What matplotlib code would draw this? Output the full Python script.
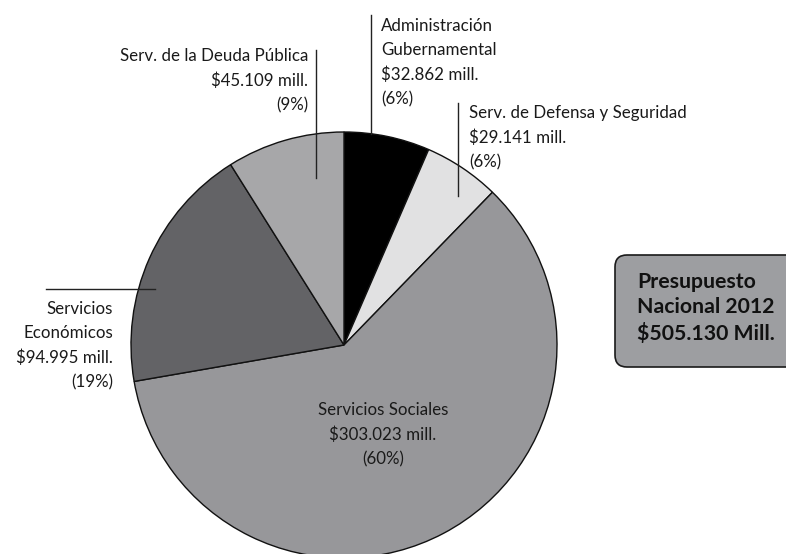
import matplotlib
matplotlib.use('Agg')
from matplotlib import pyplot as plt
from matplotlib.patches import FancyBboxPatch

W, H = 786, 554

# Presupuesto por finalidad, millones de pesos
labels = ['Administración\nGubernamental', 'Serv. de Defensa y Seguridad',
          'Servicios Sociales', 'Servicios\nEconómicos', 'Serv. de la Deuda Pública']
values = [32.862, 29.141, 303.023, 94.995, 45.109]
value_text = ['$32.862 mill.', '$29.141 mill.', '$303.023 mill.', '$94.995 mill.', '$45.109 mill.']
pct_text = ['(6%)', '(6%)', '(60%)', '(19%)', '(9%)']
colors = ['#000000', '#e1e1e2', '#97979a', '#636366', '#a7a7a9']
total_text = 'Presupuesto\nNacional 2012\n$505.130 Mill.'

FONT = 'Lato'


def py(y):
    '''
        pixel row (from the top) -> data y
    '''
    return H - y


def main():
    fig = plt.figure(figsize=(W / 100, H / 100), dpi=100)
    ax = fig.add_axes([0, 0, 1, 1])

    ax.pie(values, colors=colors, startangle=90, counterclock=False,
           center=(344, py(345)), radius=213,
           wedgeprops=dict(edgecolor='#111111', linewidth=1.0))

    # pie() rescales the axes, so fix the pixel frame afterwards
    ax.set_xlim(0, W)
    ax.set_ylim(0, H)
    ax.set_aspect('equal')
    ax.axis('off')

    kw = dict(fontsize=12.2, family=FONT, color='#1a1a1a', linespacing=1.63,
              va='top')

    # leader lines
    ax.plot([371, 371], [py(15), py(134)], color='#222222', lw=1)
    ax.plot([458, 458], [py(103), py(196)], color='#222222', lw=1)
    ax.plot([316, 316], [py(50), py(178)], color='#222222', lw=1)
    ax.plot([46, 155], [py(289), py(289)], color='#222222', lw=1)

    # Administración
    ax.text(381, py(18), labels[0] + '\n' + value_text[0] + '\n' + pct_text[0],
            ha='left', **kw)
    # Defensa
    ax.text(469, py(105), labels[1] + '\n' + value_text[1] + '\n' + pct_text[1],
            ha='left', **kw)
    # Sociales
    ax.text(383, py(402), labels[2] + '\n' + value_text[2] + '\n' + pct_text[2],
            ha='center', multialignment='center', **kw)
    # Económicos
    ax.text(113, py(301), labels[3] + '\n' + value_text[3] + '\n' + pct_text[3],
            ha='right', multialignment='right', **kw)
    # Deuda
    ax.text(308, py(48), labels[4] + '\n' + value_text[4] + '\n' + pct_text[4],
            ha='right', multialignment='right', **kw)

    # total box
    box = FancyBboxPatch((615, py(367)), 200, 112,
                         boxstyle='round,pad=0,rounding_size=12',
                         facecolor='#9d9ea1', edgecolor='#1a1a1a', lw=1.2,
                         clip_on=False)
    ax.add_patch(box)
    ax.text(637, py(272), total_text, ha='left', va='top', fontsize=15.3,
            fontweight='bold', family=FONT, color='#111111', linespacing=1.32)

    fig.savefig('out.png', dpi=100)


if __name__ == "__main__":
    main()
